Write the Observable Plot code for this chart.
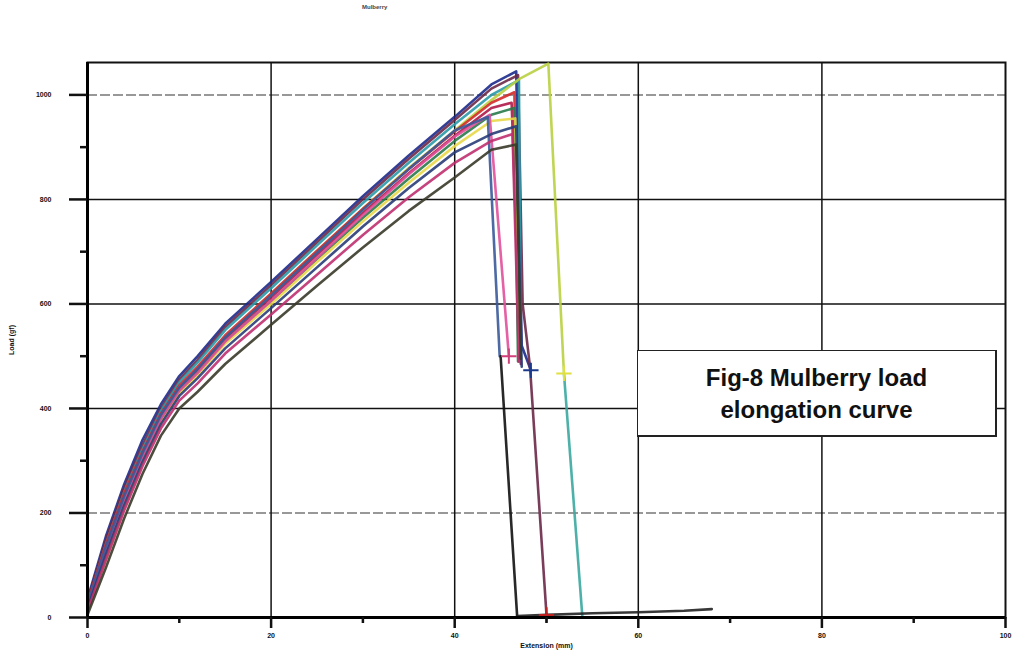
<!DOCTYPE html>
<html>
<head>
<meta charset="utf-8">
<script src="https://cdn.jsdelivr.net/npm/d3@7"></script>
<script src="https://cdn.jsdelivr.net/npm/@observablehq/plot@0.6"></script>
<style>
  body { margin: 0; background: white; }
  #wrap { position: relative; width: 1026px; height: 655px; }
  #title { position: absolute; left: 362px; top: 4px; font: bold 6px "Liberation Sans", Arial, sans-serif; color: #444; }
  #note { position: absolute; left: 637px; top: 350px; width: 360px; height: 87px; border: 1.5px solid #222;
          border-right-width: 2.5px; border-bottom-width: 2.5px;
          background: white; font: bold 24px "Liberation Sans", Arial, sans-serif; color: #111; text-align: center;
          line-height: 32px; padding-top: 11px; box-sizing: border-box; }
</style>
</head>
<body>
<div id="wrap">
  <div id="chart"></div>
  <div id="title">Mulberry</div>
  <div id="note">Fig-8 Mulberry load<br>elongation curve</div>
</div>
<script>
// Extension (mm) sample points for the rising part of each curve
const xRise = [0, 2, 4, 6, 8, 10, 12, 15, 20, 25, 30, 35, 40];

// Load (gf) of each specimen at xRise
const navyRise    = [35, 155, 255, 340, 408, 462, 500, 562, 642, 724, 806, 884, 958];
const maroonRise  = [30, 148, 248, 330, 400, 455, 493, 556, 636, 718, 800, 878, 952];
const tealRise    = [25, 140, 240, 322, 395, 450, 488, 550, 630, 712, 793, 870, 944];
const limeRise    = [10, 110, 210, 300, 375, 432, 472, 535, 618, 700, 782, 860, 932];
const redRise     = [28, 140, 238, 318, 390, 444, 480, 540, 620, 702, 782, 858, 930];
const crimsonRise = [22, 132, 230, 312, 384, 438, 474, 534, 612, 694, 774, 850, 922];
const greenRise   = [20, 125, 222, 305, 378, 432, 468, 528, 605, 686, 765, 840, 912];
const yellowRise  = [15, 118, 215, 298, 372, 428, 464, 524, 600, 680, 758, 832, 902];
const pinkRise    = [20, 128, 225, 308, 380, 434, 468, 528, 606, 688, 770, 848, 920];
const steelRise   = [25, 135, 232, 315, 388, 440, 476, 536, 616, 698, 780, 858, 932];
const dkblueRise  = [18, 120, 215, 298, 370, 424, 458, 515, 592, 670, 748, 822, 890];
const magentaRise = [12, 110, 205, 290, 362, 415, 448, 505, 580, 656, 732, 804, 870];
const blackRise   = [5, 95, 190, 275, 348, 400, 432, 485, 560, 635, 708, 778, 842];

// Peak and break points [extension, load] of each specimen
const navyFail    = [[44, 1020], [46.7, 1045], [47.3, 520], [48.3, 473]];
const maroonFail  = [[44, 1012], [46.9, 1038], [47.4, 600], [48.2, 480], [50, 5]];
const tealFail    = [[44, 1000], [47, 1028], [47.2, 500]];
const limeFail    = [[44, 990], [47, 1030], [50.2, 1060], [51.9, 467]];
const redFail     = [[44, 985], [46.5, 1005], [47, 490]];
const crimsonFail = [[44, 975], [46.2, 985], [47.2, 485]];
const greenFail   = [[44, 962], [46.5, 975], [46.9, 490]];
const yellowFail  = [[44, 950], [46.6, 955], [47.1, 505]];
const pinkFail    = [[43.8, 962], [45.9, 500]];
const steelFail   = [[43.6, 958], [44.9, 500]];
const dkblueFail  = [[44, 925], [46.7, 940], [47.3, 480]];
const magentaFail = [[44, 912], [46.3, 925], [47.0, 490]];
const blackFail   = [[44, 895], [46.7, 905], [47.2, 495]];

// Continuation segments after the first drop
const tealDrop  = [[51.9, 467], [53.9, 3]];
const blackDrop = [[45, 500], [46.8, 3]];
const baseTail  = [[46.8, 3], [50, 5], [55, 8], [60, 10], [65, 13], [68, 16]];

// End markers
const endMarks = [[45.9, 500, "#d0407a"], [48.3, 473, "#1c3a8c"], [51.9, 467, "#e0e040"], [50, 5, "#c02020"]];

const specimens = [
  ["navy", navyRise, navyFail, "#1c2a8c"],
  ["maroon", maroonRise, maroonFail, "#6a2848"],
  ["teal", tealRise, tealFail, "#2a9aa8"],
  ["lime", limeRise, limeFail, "#b8d040"],
  ["red", redRise, redFail, "#d42a2a"],
  ["crimson", crimsonRise, crimsonFail, "#b01848"],
  ["green", greenRise, greenFail, "#2a7a4a"],
  ["yellow", yellowRise, yellowFail, "#e8d848"],
  ["pink", pinkRise, pinkFail, "#e0509a"],
  ["steel", steelRise, steelFail, "#3a5a9a"],
  ["dkblue", dkblueRise, dkblueFail, "#283c78"],
  ["magenta", magentaRise, magentaFail, "#c03070"],
  ["black", blackRise, blackFail, "#3a3a2a"]
];
const extras = [
  ["tealDrop", tealDrop, "#3aa8a0"],
  ["blackDrop", blackDrop, "#111111"],
  ["baseTail", baseTail, "#222222"]
];

const rows = [];
for (const [id, rise, fail, color] of specimens) {
  xRise.forEach((x, i) => rows.push({id, x, y: rise[i], color}));
  fail.forEach(([x, y]) => rows.push({id, x, y, color}));
}
for (const [id, pts, color] of extras) pts.forEach(([x, y]) => rows.push({id, x, y, color}));
const marks = endMarks.map(([x, y, color]) => ({x, y, color}));

const yMajor = [0, 200, 400, 600, 800, 1000];
const yMinor = [100, 300, 500, 700, 900];
const xMajor = [0, 20, 40, 60, 80, 100];
const xMinor = [10, 30, 50, 70, 90];

const chart = Plot.plot({
  width: 1026, height: 655,
  marginLeft: 87, marginRight: 21, marginTop: 62, marginBottom: 38,
  x: {domain: [0, 100]},
  y: {domain: [0, 1062]},
  style: {fontFamily: "'Liberation Sans', Arial, sans-serif", fontSize: "7px", background: "white", color: "#111"},
  marks: [
    Plot.ruleY([200, 1000], {stroke: "#777", strokeWidth: 1.5, strokeDasharray: "10,3"}),
    Plot.ruleY([400, 600, 800], {stroke: "#111", strokeWidth: 1.5}),
    Plot.ruleX([20, 40, 60, 80], {stroke: "#111", strokeWidth: 1.5}),
    Plot.frame({stroke: "#111", strokeWidth: 2}),
    Plot.line(rows, {x: "x", y: "y", z: "id", stroke: "color", strokeWidth: 2.6, strokeOpacity: 0.9}),
    Plot.dot(marks, {x: "x", y: "y", stroke: "color", symbol: "plus", r: 5, strokeWidth: 2}),
    Plot.ruleX([0], {stroke: "#000", strokeWidth: 3}),
    Plot.ruleY([0], {stroke: "#000", strokeWidth: 3}),
    Plot.axisY(yMajor, {tickSize: 18, tickPadding: 18, strokeWidth: 2.5, fontWeight: "bold", tickFormat: d => String(d),
      label: "Load (gf)", labelAnchor: "center", labelArrow: "none", labelOffset: 78}),
    Plot.axisY(yMinor, {tickSize: 7, strokeWidth: 2.5, text: null, label: null}),
    Plot.axisX(xMajor, {tickSize: 11, tickPadding: 5, strokeWidth: 2.5, fontWeight: "bold", tickFormat: d => String(d),
      label: "Extension (mm)", labelAnchor: "center", labelArrow: "none", labelOffset: 30}),
    Plot.axisX(xMinor, {tickSize: 6, strokeWidth: 2.5, text: null, label: null})
  ]
});
document.getElementById("chart").appendChild(chart);
</script>
</body>
</html>
